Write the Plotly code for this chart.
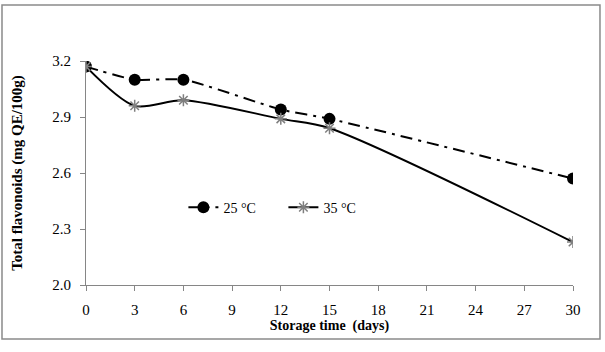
import plotly.graph_objects as go

days = [0, 3, 6, 12, 15, 30]
t25 = [3.17, 3.10, 3.10, 2.94, 2.89, 2.57]
t35 = [3.17, 2.96, 2.99, 2.89, 2.84, 2.23]
series_names = ["25 °C", "35 °C"]
x_ticks = [0, 3, 6, 9, 12, 15, 18, 21, 24, 27, 30]
y_ticks = [2.0, 2.3, 2.6, 2.9, 3.2]

SERIF = "Liberation Serif, Times New Roman, serif"

fig = go.Figure()
fig.add_trace(go.Scatter(
    x=days, y=t25, name=series_names[0], mode="lines+markers",
    line=dict(color="black", width=2, dash="12px,6px,3px,6px", shape="spline", smoothing=0.6),
    marker=dict(symbol="circle", size=12, color="black"),
))
fig.add_trace(go.Scatter(
    x=days, y=t35, name=series_names[1], mode="lines+markers",
    line=dict(color="black", width=2, shape="spline", smoothing=0.8),
    marker=dict(symbol="asterisk-open", size=10, color="#7f7f7f", line=dict(color="#7f7f7f", width=1.5)),
))

axis_font = dict(family=SERIF, size=15, color="black")
fig.update_layout(
    width=605, height=352,
    margin=dict(l=86, r=32, t=61, b=67),
    paper_bgcolor="white", plot_bgcolor="white",
    font=dict(family=SERIF, size=14, color="black"),
    showlegend=True,
    legend=dict(orientation="h", x=0.2, y=0.345, xanchor="left", yanchor="middle",
                bgcolor="rgba(0,0,0,0)", font=dict(family=SERIF, size=14),
                entrywidth=55, entrywidthmode="pixels", itemwidth=30),
    xaxis=dict(range=[0, 30], tickvals=x_ticks, showgrid=False, zeroline=False,
               showline=True, linecolor="#868686", linewidth=1,
               ticks="outside", ticklen=5, tickcolor="#868686",
               tickfont=axis_font, ticklabelstandoff=6,
               title=dict(text="<b>Storage time  (days)</b>", font=dict(family=SERIF, size=14), standoff=2)),
    yaxis=dict(range=[2.0, 3.2], tickvals=y_ticks, tickformat=".1f", showgrid=False, zeroline=False,
               showline=True, linecolor="#868686", linewidth=1,
               ticks="outside", ticklen=5, tickcolor="#868686",
               tickfont=axis_font, ticklabelstandoff=6,
               title=dict(text="<b>Total flavonoids (mg QE/100g)</b>", font=dict(family=SERIF, size=15), standoff=26)),
    shapes=[dict(type="rect", xref="paper", yref="paper",
                 x0=-0.1725, x1=1.0554, y0=-0.241, y1=1.25,
                 line=dict(color="#8a8a8a", width=1.5), fillcolor="rgba(0,0,0,0)", layer="below")],
)

fig.write_html("out.html")
